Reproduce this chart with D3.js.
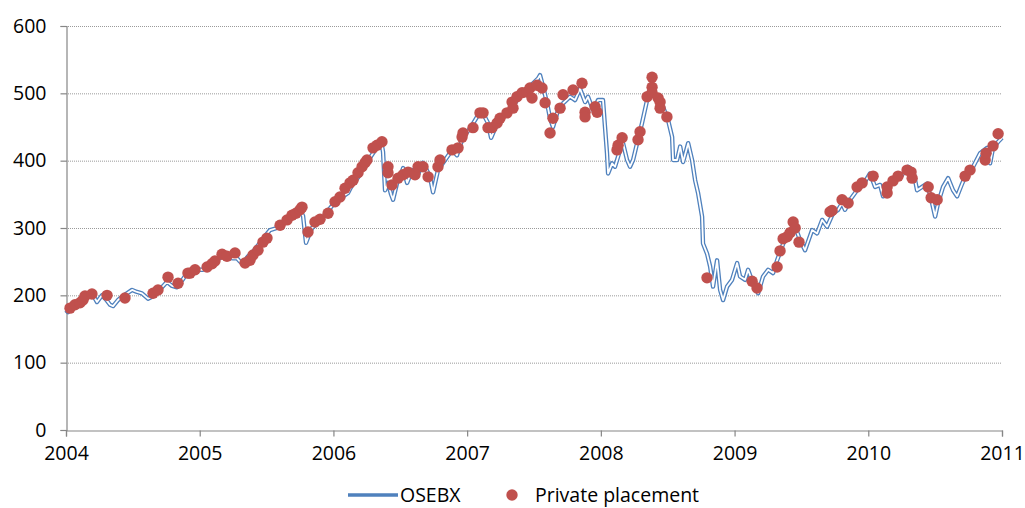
<!DOCTYPE html>
<html>
<head>
<meta charset="utf-8">
<script src="https://cdn.jsdelivr.net/npm/d3@7"></script>
<style>
  html, body { margin: 0; padding: 0; background: #fff; }
  svg { display: block; font-family: "Open Sans", "Liberation Sans", sans-serif; }
</style>
</head>
<body>
<svg id="chart" width="1025" height="508"></svg>
<script>
// OSEBX index level, sampled roughly every couple of weeks: [year, level]
const osebx = [
  [2004.000,178],[2004.015,175],[2004.045,183],[2004.090,188],[2004.135,195],[2004.180,205],
  [2004.209,198],[2004.232,190],[2004.254,196],[2004.269,200],[2004.299,194],[2004.329,186],
  [2004.352,184],[2004.389,193],[2004.434,200],[2004.494,208],[2004.531,205],[2004.568,203],
  [2004.613,195],[2004.643,198],[2004.681,205],[2004.718,212],[2004.755,220],[2004.793,214],
  [2004.830,212],[2004.868,222],[2004.905,233],[2004.950,232],[2004.987,238],[2005.025,238],
  [2005.077,246],[2005.129,252],[2005.167,258],[2005.204,256],[2005.249,255],[2005.279,255],
  [2005.301,250],[2005.324,248],[2005.361,258],[2005.399,265],[2005.451,278],[2005.488,288],
  [2005.526,297],[2005.578,300],[2005.616,308],[2005.653,315],[2005.698,320],[2005.750,327],
  [2005.773,318],[2005.795,278],[2005.818,290],[2005.840,300],[2005.870,305],[2005.900,309],
  [2005.952,324],[2005.990,333],[2006.027,342],[2006.072,347],[2006.109,352],[2006.147,367],
  [2006.184,375],[2006.221,391],[2006.259,400],[2006.296,411],[2006.334,423],[2006.356,430],
  [2006.371,413],[2006.386,356],[2006.408,367],[2006.431,350],[2006.446,342],[2006.476,367],
  [2006.498,375],[2006.521,389],[2006.551,367],[2006.588,386],[2006.625,376],[2006.670,397],
  [2006.700,385],[2006.722,376],[2006.745,353],[2006.782,386],[2006.835,401],[2006.887,416],
  [2006.924,408],[2006.969,435],[2007.022,448],[2007.074,465],[2007.119,470],[2007.156,456],
  [2007.179,434],[2007.209,448],[2007.246,460],[2007.298,470],[2007.343,480],[2007.396,498],
  [2007.448,505],[2007.493,515],[2007.530,522],[2007.545,527],[2007.568,510],[2007.598,485],
  [2007.620,463],[2007.642,450],[2007.680,475],[2007.717,485],[2007.770,495],[2007.807,490],
  [2007.844,507],[2007.882,487],[2007.904,495],[2007.942,475],[2007.979,490],[2008.016,490],
  [2008.031,450],[2008.046,411],[2008.054,381],[2008.084,396],[2008.106,391],[2008.144,416],
  [2008.166,426],[2008.196,401],[2008.218,391],[2008.241,401],[2008.271,426],[2008.308,456],
  [2008.346,490],[2008.383,502],[2008.421,495],[2008.465,480],[2008.503,460],[2008.533,435],
  [2008.540,401],[2008.570,401],[2008.593,421],[2008.615,398],[2008.653,426],[2008.682,401],
  [2008.705,371],[2008.727,352],[2008.757,317],[2008.764,277],[2008.794,262],[2008.817,243],
  [2008.839,213],[2008.869,252],[2008.892,208],[2008.914,193],[2008.944,213],[2008.981,223],
  [2009.019,248],[2009.041,228],[2009.079,223],[2009.101,238],[2009.138,218],[2009.176,203],
  [2009.213,228],[2009.251,238],[2009.288,233],[2009.318,252],[2009.355,272],[2009.393,292],
  [2009.453,302],[2009.490,282],[2009.527,267],[2009.580,297],[2009.617,292],[2009.655,312],
  [2009.692,302],[2009.737,322],[2009.774,327],[2009.804,337],[2009.826,327],[2009.864,342],
  [2009.916,356],[2009.961,364],[2010.013,381],[2010.051,361],[2010.088,364],[2010.111,347],
  [2010.148,361],[2010.200,374],[2010.253,379],[2010.298,391],[2010.335,386],[2010.365,356],
  [2010.402,361],[2010.440,366],[2010.477,337],[2010.500,317],[2010.522,337],[2010.559,361],
  [2010.597,374],[2010.634,356],[2010.664,347],[2010.702,366],[2010.746,386],[2010.784,391],
  [2010.836,411],[2010.889,419],[2010.911,396],[2010.933,419],[2010.971,428],[2011.000,434]
];

// Private placements: [year, index level at the placement]
const placements = [
  [2004.030,181],[2004.067,186],[2004.105,189],[2004.127,193],[2004.142,199],[2004.194,202],
  [2004.307,200],[2004.441,196],[2004.651,203],[2004.688,208],[2004.763,227],[2004.838,218],
  [2004.912,233],[2004.927,233],[2004.965,238],[2005.055,242],[2005.092,247],[2005.114,251],
  [2005.167,261],[2005.204,258],[2005.264,263],[2005.339,248],[2005.376,252],[2005.399,260],
  [2005.436,267],[2005.473,279],[2005.503,285],[2005.601,304],[2005.653,312],[2005.690,319],
  [2005.720,322],[2005.750,327],[2005.765,331],[2005.810,294],[2005.862,309],[2005.900,313],
  [2005.960,322],[2006.012,339],[2006.049,346],[2006.087,359],[2006.124,367],[2006.147,371],
  [2006.184,382],[2006.214,391],[2006.236,397],[2006.251,401],[2006.296,419],[2006.326,423],
  [2006.363,428],[2006.408,391],[2006.408,382],[2006.438,364],[2006.483,374],[2006.521,379],
  [2006.558,383],[2006.610,379],[2006.633,391],[2006.670,391],[2006.708,376],[2006.782,391],
  [2006.797,401],[2006.887,416],[2006.932,419],[2006.962,435],[2006.969,441],[2007.044,449],
  [2007.096,471],[2007.119,471],[2007.156,449],[2007.186,449],[2007.224,456],[2007.246,463],
  [2007.298,471],[2007.336,487],[2007.343,478],[2007.373,495],[2007.411,501],[2007.448,502],
  [2007.470,508],[2007.485,493],[2007.523,512],[2007.560,508],[2007.583,486],[2007.620,441],
  [2007.642,463],[2007.695,478],[2007.717,498],[2007.792,505],[2007.859,515],[2007.882,472],
  [2007.882,465],[2007.957,480],[2007.972,472],[2008.121,416],[2008.129,423],[2008.159,434],
  [2008.278,431],[2008.293,443],[2008.346,495],[2008.383,524],[2008.383,509],[2008.383,501],
  [2008.428,493],[2008.443,487],[2008.443,478],[2008.494,465],[2008.794,226],[2009.131,221],
  [2009.168,211],[2009.318,242],[2009.340,266],[2009.363,284],[2009.393,287],[2009.415,293],
  [2009.438,309],[2009.453,300],[2009.482,279],[2009.714,324],[2009.729,326],[2009.804,342],
  [2009.849,337],[2009.916,361],[2009.954,367],[2010.036,377],[2010.141,352],[2010.141,361],
  [2010.185,370],[2010.223,377],[2010.290,386],[2010.320,383],[2010.328,374],[2010.448,361],
  [2010.470,345],[2010.515,342],[2010.724,377],[2010.761,386],[2010.874,401],[2010.881,411],
  [2010.933,422],[2010.971,440]
];

const yearTicks = [2004, 2005, 2006, 2007, 2008, 2009, 2010, 2011];
const valueTicks = [0, 100, 200, 300, 400, 500, 600];
const seriesNames = ["OSEBX", "Private placement"];

const lineColor = "#4F81BD";
const dotColor = "#C0504D";
const axisColor = "#868686";
const fontSize = "19.5px";

const svg = d3.select("#chart");
const plot = { left: 66, right: 1002, top: 26, bottom: 430 };

const x = d3.scaleLinear().domain([2004, 2011]).range([plot.left, plot.right]);
const y = d3.scaleLinear().domain([0, 600]).range([plot.bottom, plot.top]);

// horizontal dotted gridlines
svg.append("g")
  .selectAll("line")
  .data(valueTicks.filter(v => v > 0))
  .join("line")
  .attr("x1", plot.left).attr("x2", plot.right)
  .attr("y1", d => y(d) + 0.5).attr("y2", d => y(d) + 0.5)
  .attr("stroke", "#9a9a9a")
  .attr("stroke-width", 1)
  .attr("stroke-dasharray", "1,1");

// y axis
const yAxis = svg.append("g")
  .attr("transform", `translate(${plot.left + 0.5},0)`)
  .call(d3.axisLeft(y).tickValues(valueTicks).tickSize(6).tickPadding(14).tickFormat(d3.format("d")));
yAxis.select(".domain").attr("stroke", axisColor).attr("stroke-width", 1.2);
yAxis.selectAll(".tick line").attr("stroke", axisColor).attr("stroke-width", 1.2);
yAxis.selectAll(".tick text")
  .attr("fill", "#000")
  .style("font-size", fontSize)
  .style("font-family", "'Open Sans', 'Liberation Sans', sans-serif");

// x axis
const xAxis = svg.append("g")
  .attr("transform", `translate(0,${plot.bottom + 0.5})`)
  .call(d3.axisBottom(x).tickValues(yearTicks).tickSize(6).tickPadding(10).tickFormat(d3.format("d")));
xAxis.select(".domain").attr("stroke", axisColor).attr("stroke-width", 1.2);
xAxis.selectAll(".tick line").attr("stroke", axisColor).attr("stroke-width", 1.2);
xAxis.selectAll(".tick text")
  .attr("fill", "#000")
  .style("font-size", fontSize)
  .style("font-family", "'Open Sans', 'Liberation Sans', sans-serif");

// OSEBX drawn as a double line: wide blue stroke with a white core
const line = d3.line().x(d => x(d[0])).y(d => y(d[1]));
svg.append("path")
  .datum(osebx)
  .attr("d", line)
  .attr("fill", "none")
  .attr("stroke", lineColor)
  .attr("stroke-width", 4.4)
  .attr("stroke-linejoin", "round");
svg.append("path")
  .datum(osebx)
  .attr("d", line)
  .attr("fill", "none")
  .attr("stroke", "#fff")
  .attr("stroke-width", 1.8)
  .attr("stroke-linejoin", "round");

// private placement markers
svg.append("g")
  .selectAll("circle")
  .data(placements)
  .join("circle")
  .attr("cx", d => x(d[0]))
  .attr("cy", d => y(d[1]))
  .attr("r", 5.7)
  .attr("fill", dotColor);

// legend
const legend = svg.append("g").attr("transform", "translate(0,495)");
legend.append("line")
  .attr("x1", 348).attr("x2", 398)
  .attr("y1", 0).attr("y2", 0)
  .attr("stroke", lineColor)
  .attr("stroke-width", 3.5);
legend.append("text")
  .attr("x", 400).attr("y", 6.5)
  .style("font-size", fontSize)
  .attr("fill", "#000")
  .text(seriesNames[0]);
legend.append("circle")
  .attr("cx", 512).attr("cy", 0)
  .attr("r", 5.7)
  .attr("fill", dotColor);
legend.append("text")
  .attr("x", 535).attr("y", 6.5)
  .style("font-size", fontSize)
  .attr("fill", "#000")
  .text(seriesNames[1]);
</script>
</body>
</html>
